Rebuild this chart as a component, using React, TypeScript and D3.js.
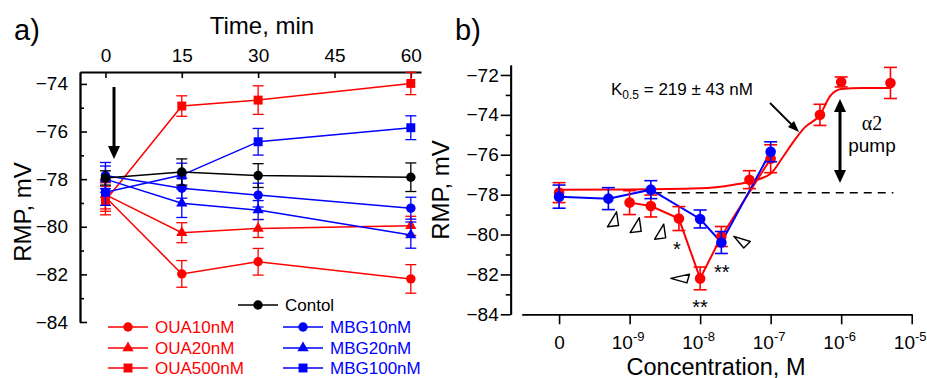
import React, { useEffect, useRef } from 'react';
import * as d3 from 'd3';

const RED = '#ff0000';
const BLUE = '#0000ff';
const FONT = '"Liberation Sans", Arial, sans-serif';

// ---- panel a: RMP vs time ----
const timeMin = [0, 15, 30, 60];
const timeTicks = [0, 15, 30, 45, 60];
const rmpTicksA = [-84, -82, -80, -78, -76, -74];
const rmpMinorA = [-83, -81, -79, -77, -75];

const controlRmp = [-77.95, -77.7, -77.85, -77.92];
const controlErr = [0.3, 0.55, 0.5, 0.6];
const oua10Rmp = [-78.75, -81.98, -81.47, -82.19];
const oua10Err = [0.6, 0.56, 0.56, 0.6];
const oua20Rmp = [-78.65, -80.25, -80.07, -79.96];
const oua20Err = [0.6, 0.42, 0.38, 0.4];
const oua500Rmp = [-78.9, -74.93, -74.68, -73.98];
const oua500Err = [0.6, 0.43, 0.6, 0.47];
const mbg10Rmp = [-77.85, -78.38, -78.67, -79.22];
const mbg10Err = [0.55, 0.42, 0.5, 0.46];
const mbg20Rmp = [-78.0, -79.01, -79.3, -80.35];
const mbg20Err = [0.55, 0.6, 0.4, 0.55];
const mbg100Rmp = [-78.55, -77.83, -76.43, -75.84];
const mbg100Err = [0.55, 0.5, 0.56, 0.5];

// ---- panel b: RMP vs concentration ----
const concTicks = [1e-10, 1e-9, 1e-8, 1e-7, 1e-6, 1e-5];
const concTickLabels = ['0', '-9', '-8', '-7', '-6', '-5'];
const rmpTicksB = [-84, -82, -80, -78, -76, -74, -72];
const rmpMinorB = [-83, -81, -79, -77, -75, -73];

const ouaConc = [1e-10, 1e-9, 2e-9, 5e-9, 1e-8, 2e-8, 5e-8, 1e-7, 5e-7, 1e-6, 5e-6];
const ouaRmp = [-77.9, -78.4, -78.57, -79.2, -82.2, -80.1, -77.25, -76.2, -74.0, -72.35, -72.4];
const ouaErr = [0.5, 0.6, 0.55, 0.6, 0.57, 0.5, 0.45, 0.7, 0.53, 0.25, 0.78];
const ouaLinked = [1e-9, 2e-9, 5e-9, 1e-8, 2e-8, 1e-7];

const mbgConc = [1e-10, 5e-10, 2e-9, 1e-8, 2e-8, 1e-7];
const mbgRmp = [-78.1, -78.2, -77.75, -79.22, -80.4, -75.85];
const mbgErr = [0.58, 0.55, 0.45, 0.45, 0.55, 0.5];

// fitted curve (K0.5 = 219 nM)
const fitConc = [1e-10, 1e-9, 1e-8, 3e-8, 5e-8, 1e-7, 1.5e-7, 2.2e-7, 3e-7, 5e-7, 7e-7, 1e-6, 2e-6, 5e-6];
const fitRmp = [-77.75, -77.74, -77.68, -77.5, -77.35, -76.95, -76.1, -75.25, -74.65, -74.0, -73.05, -72.7, -72.65, -72.65];

const baselineRmp = -77.9;
const baselineConc = [2.2e-9, 5.5e-6];

// open triangle marks [conc, rmp, shape]
const triShapes = [
  'M2,-7 L3.5,3.5 L-5,4.5 Z',
  'M-6.7,-4.3 L5.9,-0.3 L0.9,4.7 Z',
  'M-8.9,0 L5.5,-3.3 L3.5,3.4 Z',
];
const triMarks: [number, number, number][] = [
  [6.0e-10, -79.32, 0],
  [1.26e-9, -79.61, 0],
  [2.8e-9, -79.94, 0],
  [4.0e-8, -80.37, 1],
  [5.6e-9, -82.2, 2],
];
// significance stars [conc, rmp (glyph centre), text]
const starMarks: [number, number, string][] = [
  [4.7e-9, -80.49, '*'],
  [2.03e-8, -81.66, '**'],
  [1e-8, -83.43, '**'],
];

const App = () => {
  const svgRef = useRef<SVGSVGElement>(null);

  useEffect(() => {
    const svg = d3.select(svgRef.current);
    svg.selectAll('*').remove();

    // ================= panel a =================
    const xA = d3.scaleLinear().domain([-5, 62]).range([80, 421]);
    const yA = d3.scaleLinear().domain([-84, -73.5]).range([322, 72]);
    const ga = svg.append('g');

    ga.append('g')
      .attr('transform', `translate(0,${yA(-73.5)})`)
      .call(d3.axisTop(xA).tickValues(timeTicks).tickSize(-6).tickSizeOuter(0).tickPadding(10).tickFormat(d3.format('d')));
    ga.append('g')
      .attr('transform', `translate(${xA(-5)},0)`)
      .call(d3.axisLeft(yA).tickValues(rmpTicksA).tickSize(-7).tickSizeOuter(0).tickPadding(12));
    ga.append('g')
      .attr('transform', `translate(${xA(-5)},0)`)
      .call(d3.axisLeft(yA).tickValues(rmpMinorA).tickSize(-4).tickSizeOuter(0).tickFormat(() => ''));

    ga.append('text').attr('x', 262).attr('y', 34).attr('text-anchor', 'middle')
      .style('font-size', '24px').text('Time, min');
    ga.append('text').attr('transform', 'translate(31,212) rotate(-90)').attr('text-anchor', 'middle')
      .style('font-size', '24px').text('RMP, mV');
    ga.append('text').attr('x', 14).attr('y', 40).style('font-size', '29px').text('a)');

    // arrow at t=0
    ga.append('line').attr('x1', 114).attr('x2', 114).attr('y1', 87).attr('y2', 148)
      .attr('stroke', 'black').attr('stroke-width', 3);
    ga.append('path').attr('d', 'M108,146 L120,146 L114,159 Z').attr('fill', 'black');

    const seriesA = [
      { name: 'OUA10nM', v: oua10Rmp, e: oua10Err, c: RED, s: d3.symbolCircle, size: 70 },
      { name: 'OUA20nM', v: oua20Rmp, e: oua20Err, c: RED, s: d3.symbolTriangle, size: 55 },
      { name: 'OUA500nM', v: oua500Rmp, e: oua500Err, c: RED, s: d3.symbolSquare, size: 80 },
      { name: 'MBG10nM', v: mbg10Rmp, e: mbg10Err, c: BLUE, s: d3.symbolCircle, size: 70 },
      { name: 'MBG20nM', v: mbg20Rmp, e: mbg20Err, c: BLUE, s: d3.symbolTriangle, size: 55 },
      { name: 'MBG100nM', v: mbg100Rmp, e: mbg100Err, c: BLUE, s: d3.symbolSquare, size: 80 },
      { name: 'Contol', v: controlRmp, e: controlErr, c: 'black', s: d3.symbolCircle, size: 70 },
    ];

    const lineA = d3.line<number>().x((_, i) => xA(timeMin[i])).y(d => yA(d));
    seriesA.forEach(se => {
      const g = ga.append('g');
      g.append('path').attr('d', lineA(se.v)).attr('fill', 'none').attr('stroke', se.c).attr('stroke-width', 1.5);
      se.v.forEach((v, i) => {
        const x = xA(timeMin[i]);
        const y0 = yA(v - se.e[i]);
        const y1 = yA(v + se.e[i]);
        g.append('line').attr('x1', x).attr('x2', x).attr('y1', y0).attr('y2', y1).attr('stroke', se.c).attr('stroke-width', 1.3);
        [y0, y1].forEach(y => g.append('line').attr('x1', x - 5.5).attr('x2', x + 5.5).attr('y1', y).attr('y2', y)
          .attr('stroke', se.c).attr('stroke-width', 1.3));
        g.append('path').attr('d', d3.symbol(se.s, se.size)()).attr('transform', `translate(${x},${yA(v)})`).attr('fill', se.c);
      });
    });

    // legend a
    const legendRows: [number, number, number][] = [
      [6, 238, 305],
      [0, 108, 327], [1, 108, 348], [2, 108, 368],
      [3, 283, 327], [4, 283, 348], [5, 283, 368],
    ];
    legendRows.forEach(([k, lx, ly]) => {
      const se = seriesA[k];
      ga.append('line').attr('x1', lx).attr('x2', lx + 40).attr('y1', ly).attr('y2', ly).attr('stroke', se.c).attr('stroke-width', 1.5);
      ga.append('path').attr('d', d3.symbol(se.s, se.size)()).attr('transform', `translate(${lx + 20},${ly})`).attr('fill', se.c);
      ga.append('text').attr('x', lx + 47).attr('y', ly + 6).attr('fill', se.c).style('font-size', '17px').text(se.name);
    });

    // ================= panel b =================
    const xB = d3.scaleLog().domain([10 ** -10.53, 1e-5]).range([521.7, 911.7]);
    const yB = d3.scaleLinear().domain([-84, -71.5]).range([314.3, 65]);
    const gb = svg.append('g');

    gb.append('g')
      .attr('transform', `translate(510.7,0)`)
      .call(d3.axisLeft(yB).tickValues(rmpTicksB).tickSize(10).tickSizeOuter(0).tickPadding(2));
    gb.append('g')
      .attr('transform', `translate(510.7,0)`)
      .call(d3.axisLeft(yB).tickValues(rmpMinorB).tickSize(5).tickSizeOuter(0).tickFormat(() => ''));
    const xAx = gb.append('g')
      .attr('transform', `translate(0,${yB(-84)})`)
      .call(d3.axisBottom(xB).tickValues(concTicks).tickSize(10).tickSizeOuter(0).tickFormat(() => ''));
    xAx.selectAll('.tick').each(function (_, i) {
      const t = d3.select(this).append('text').attr('y', 34.5).attr('fill', 'black').style('font-size', '19px');
      if (i === 0) {
        t.attr('text-anchor', 'middle').text(concTickLabels[i]);
      } else {
        t.attr('text-anchor', 'middle').attr('x', -2);
        t.append('tspan').text('10');
        t.append('tspan').attr('dy', -8).style('font-size', '13px').text(concTickLabels[i]);
      }
    });

    gb.append('text').attr('x', 716).attr('y', 374.5).attr('text-anchor', 'middle')
      .style('font-size', '23.5px').text('Concentration, M');
    gb.append('text').attr('transform', 'translate(449,190) rotate(-90)').attr('text-anchor', 'middle')
      .style('font-size', '24px').text('RMP, mV');
    gb.append('text').attr('x', 455).attr('y', 40).style('font-size', '29px').text('b)');

    // dashed baseline
    gb.append('line').attr('x1', xB(baselineConc[0])).attr('x2', xB(baselineConc[1]))
      .attr('y1', yB(baselineRmp)).attr('y2', yB(baselineRmp))
      .attr('stroke', 'black').attr('stroke-width', 1.5).attr('stroke-dasharray', '8,6');

    // fit curve
    const fitLine = d3.line<number>().x((_, i) => xB(fitConc[i])).y(d => yB(d)).curve(d3.curveMonotoneX);
    gb.append('path').attr('d', fitLine(fitRmp)).attr('fill', 'none').attr('stroke', RED).attr('stroke-width', 2);

    // connecting lines
    const ouaIdx = ouaConc.map((c, i) => i).filter(i => ouaLinked.includes(ouaConc[i]));
    gb.append('path')
      .attr('d', d3.line<number>().x(i => xB(ouaConc[i])).y(i => yB(ouaRmp[i]))(ouaIdx))
      .attr('fill', 'none').attr('stroke', RED).attr('stroke-width', 2);
    gb.append('path')
      .attr('d', d3.line<number>().x((_, i) => xB(mbgConc[i])).y(d => yB(d))(mbgRmp))
      .attr('fill', 'none').attr('stroke', BLUE).attr('stroke-width', 2);

    const drawPts = (conc: number[], vals: number[], errs: number[], color: string) => {
      vals.forEach((v, i) => {
        const x = xB(conc[i]);
        const y0 = yB(v - errs[i]);
        const y1 = yB(v + errs[i]);
        gb.append('line').attr('x1', x).attr('x2', x).attr('y1', y0).attr('y2', y1).attr('stroke', color).attr('stroke-width', 1.6);
        [y0, y1].forEach(y => gb.append('line').attr('x1', x - 6.5).attr('x2', x + 6.5).attr('y1', y).attr('y2', y)
          .attr('stroke', color).attr('stroke-width', 1.6));
        gb.append('circle').attr('cx', x).attr('cy', yB(v)).attr('r', 5.3).attr('fill', color);
      });
    };
    drawPts(ouaConc, ouaRmp, ouaErr, RED);
    drawPts(mbgConc, mbgRmp, mbgErr, BLUE);

    // open triangles
    triMarks.forEach(([c, v, k]) => {
      gb.append('path').attr('d', triShapes[k])
        .attr('transform', `translate(${xB(c)},${yB(v)}) scale(1.3)`)
        .attr('fill', 'white').attr('stroke', 'black').attr('stroke-width', 1.1).attr('stroke-linejoin', 'round');
    });
    starMarks.forEach(([c, v, s]) => {
      gb.append('text').attr('x', xB(c)).attr('y', yB(v) + 11.5).attr('text-anchor', 'middle')
        .style('font-size', '20px').text(s);
    });

    // K0.5 annotation
    const kt = gb.append('text').attr('x', 611).attr('y', 95).style('font-size', '17px');
    kt.append('tspan').text('K');
    kt.append('tspan').attr('dy', 4).style('font-size', '12px').text('0.5');
    kt.append('tspan').attr('dy', -4).text(' = 219 \u00b1 43 nM');
    gb.append('line').attr('x1', 770).attr('y1', 103).attr('x2', 793).attr('y2', 126)
      .attr('stroke', 'black').attr('stroke-width', 1.8);
    gb.append('path').attr('d', 'M799,132 L788,127 L794,121 Z').attr('fill', 'black');

    // alpha2 pump arrow
    gb.append('line').attr('x1', 840).attr('x2', 840).attr('y1', 110).attr('y2', 172)
      .attr('stroke', 'black').attr('stroke-width', 3);
    gb.append('path').attr('d', 'M840,99 L846,112 L834,112 Z').attr('fill', 'black');
    gb.append('path').attr('d', 'M840,183 L846,170 L834,170 Z').attr('fill', 'black');
    gb.append('text').attr('x', 872).attr('y', 130).attr('text-anchor', 'middle')
      .style('font-family', '"Liberation Serif", "Times New Roman", serif').style('font-size', '20px').text('\u03b12');
    gb.append('text').attr('x', 872).attr('y', 152).attr('text-anchor', 'middle')
      .style('font-size', '19px').text('pump');

    // axis styling
    svg.selectAll('.domain').attr('stroke', 'black').attr('stroke-width', 1.8);
    svg.selectAll('.tick line').attr('stroke', 'black').attr('stroke-width', 1.6);
    svg.selectAll('.tick text').style('font-size', '19px').attr('fill', 'black');
    svg.selectAll('.tick text tspan').filter((_, i, n) => (n[i] as Element).previousSibling !== null)
      .style('font-size', '13px');
    svg.selectAll('text').style('font-family', function () {
      const f = (this as SVGTextElement).style.fontFamily;
      return f && f.includes('Serif') ? f : FONT;
    });
  }, []);

  return (
    <svg ref={svgRef} width={927} height={378}
      style={{ position: 'absolute', left: 0, top: 0, background: 'white', fontFamily: FONT }} />
  );
};

export default App;
